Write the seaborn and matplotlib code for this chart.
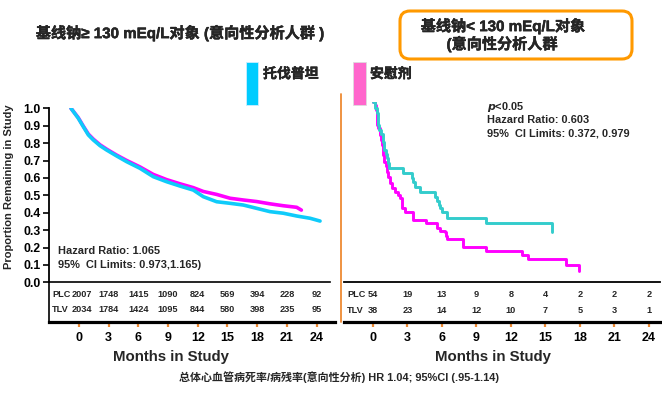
import matplotlib
matplotlib.use("Agg")
import matplotlib.pyplot as plt
from matplotlib.patches import Rectangle, FancyBboxPatch
from matplotlib.lines import Line2D
import matplotlib.patheffects as pe
import seaborn as sns
import pandas as pd

# ---------------- data ----------------
months_ticks = [0, 3, 6, 9, 12, 15, 18, 21, 24]

# Left panel (baseline Na >= 130)
left_tlv_t = [0, 0.70, 1.19, 1.67, 2.15, 2.80, 3.44, 4.40, 5.37, 6.65, 7.93, 9.22, 10.51,
              11.79, 12.75, 14.04, 15.33, 16.61, 17.90, 19.18, 20.46, 21.75, 23.04, 24.0]
left_tlv_s = [1.0, 0.943, 0.894, 0.847, 0.818, 0.785, 0.760, 0.726, 0.693, 0.655, 0.607, 0.578, 0.553,
              0.530, 0.492, 0.463, 0.454, 0.444, 0.425, 0.406, 0.397, 0.381, 0.368, 0.352]
left_plc_t = [0, 0.70, 1.19, 1.67, 2.15, 2.80, 3.44, 4.40, 5.37, 6.65, 7.93, 9.22, 10.51,
              11.79, 12.75, 14.04, 15.33, 16.61, 17.90, 19.18, 20.46, 21.75, 22.2]
left_plc_s = [1.0, 0.946, 0.897, 0.852, 0.823, 0.790, 0.765, 0.731, 0.700, 0.663, 0.620, 0.590, 0.566,
              0.544, 0.522, 0.505, 0.483, 0.473, 0.464, 0.451, 0.440, 0.431, 0.415]

# Right panel (baseline Na < 130), step curves
right_tlv_t = [0, 0.17, 0.32, 0.40, 0.46, 0.55, 0.67, 0.90, 0.99, 1.13, 1.25, 1.33, 1.42, 2.58,
               3.36, 3.50, 3.65, 4.09, 5.39, 5.60, 5.74, 5.83, 5.97, 6.46, 9.80, 15.6, 15.6]
right_tlv_s = [1.0, 0.967, 0.94, 0.912, 0.874, 0.846, 0.822, 0.781, 0.735, 0.711, 0.688, 0.66, 0.632,
               0.604, 0.577, 0.554, 0.53, 0.498, 0.474, 0.45, 0.427, 0.409, 0.39, 0.356, 0.328, 0.328, 0.275]
right_plc_t = [0, 0.17, 0.26, 0.32, 0.38, 0.46, 0.61, 0.70, 0.75, 0.84, 0.90, 0.96, 1.13, 1.25, 1.33,
               1.48, 1.62, 1.91, 2.20, 2.35, 2.49, 2.78, 3.50, 4.61, 5.60, 5.83, 6.26, 6.35, 6.46,
               7.80, 9.80, 13.0, 13.45, 16.8, 17.9, 17.9]
right_plc_s = [1.0, 0.986, 0.958, 0.912, 0.874, 0.856, 0.818, 0.791, 0.763, 0.735, 0.707, 0.669, 0.647,
               0.613, 0.585, 0.549, 0.524, 0.502, 0.483, 0.465, 0.409, 0.387, 0.344, 0.325, 0.301,
               0.282, 0.275, 0.256, 0.237, 0.194, 0.172, 0.148, 0.124, 0.092, 0.092, 0.06]

# numbers at risk
left_plc_risk = [2007, 1748, 1415, 1090, 824, 569, 394, 228, 92]
left_tlv_risk = [2034, 1784, 1424, 1095, 844, 580, 398, 235, 95]
right_plc_risk = [54, 19, 13, 9, 8, 4, 2, 2, 2]
right_tlv_risk = [38, 23, 14, 12, 10, 7, 5, 3, 1]

yticks = [0.0, 0.1, 0.2, 0.3, 0.4, 0.5, 0.6, 0.7, 0.8, 0.9, 1.0]

title_left = "基线钠≥ 130 mEq/L对象 (意向性分析人群 )"
title_right_1 = "基线钠< 130 mEq/L对象"
title_right_2 = "(意向性分析人群"
legend_tlv = "托伐普坦"
legend_plc = "安慰剂"
footnote = "总体心血管病死率/病残率(意向性分析) HR 1.04; 95%CI (.95-1.14)"

# ---------------- style ----------------
sns.set_style("white")
plt.rcParams['font.family'] = ['Liberation Sans', 'Noto Sans CJK SC', 'DejaVu Sans']
plt.rcParams['font.weight'] = 'bold'

C_CYAN = '#0FCBFA'
C_TEAL = '#33CCCC'
C_MAG = '#FF00FF'
C_ORANGE = '#EE8A33'
BOLDER = [pe.withStroke(linewidth=0.3, foreground='black')]

W, H = 662, 394
fig = plt.figure(figsize=(W / 100, H / 100), dpi=100)


def add_ax(l, r, top, bottom):
    return fig.add_axes([l / W, 1 - bottom / H, (r - l) / W, (bottom - top) / H])


def fx(px):
    return px / W


def fy(py):
    return 1 - py / H


# ---------------- left curve axes ----------------
ax1 = add_ax(49, 330, 108.3, 282.3)
dl_p = pd.DataFrame({'t': left_plc_t, 's': left_plc_s})
dl_t = pd.DataFrame({'t': left_tlv_t, 's': left_tlv_s})
sns.lineplot(data=dl_p, x='t', y='s', ax=ax1, color=C_MAG, lw=2.6, sort=False, estimator=None)
sns.lineplot(data=dl_t, x='t', y='s', ax=ax1, color=C_CYAN, lw=2.6, sort=False, estimator=None)
ax1.set_xlim(-2.12, 24.96)
ax1.set_ylim(0, 1.0)
ax1.set_xlabel('')
ax1.set_ylabel('')
ax1.set_xticks([])
ax1.set_yticks(yticks)
ax1.set_yticklabels([f"{v:.1f}" for v in yticks], fontsize=8.8, fontweight='bold')
ax1.tick_params(axis='y', direction='out', length=4, width=1.2, pad=2, left=True, colors='black')
for s in ['top', 'right']:
    ax1.spines[s].set_visible(False)
ax1.spines['left'].set_linewidth(1.3)
ax1.spines['bottom'].set_linewidth(1.2)
ax1.spines['left'].set_color('black')
ax1.spines['bottom'].set_color('black')
ax1.patch.set_alpha(0)

# ---------------- left risk table ----------------
ax1t = add_ax(49, 335, 282.3, 322)
ax1t.set_xlim(-3.03, 25.86)
ax1t.set_ylim(0, 1)
ax1t.set_yticks([])
ax1t.set_xticks(months_ticks)
ax1t.set_xticklabels([str(m) for m in months_ticks], fontsize=9, fontweight='bold')
ax1t.tick_params(axis='x', direction='out', length=3.5, width=1.6, color=C_ORANGE, pad=4,
                 bottom=True, labelcolor='black')
for s in ['top', 'right']:
    ax1t.spines[s].set_visible(False)
ax1t.spines['left'].set_linewidth(1.2)
ax1t.spines['bottom'].set_linewidth(2.3)
ax1t.spines['left'].set_color('black')
ax1t.spines['bottom'].set_color('black')
ax1t.patch.set_alpha(0)
tr = ax1t.get_xaxis_transform()
for i, m in enumerate(months_ticks):
    xm = m + (0.3 if i == 0 else 0)
    ax1t.text(xm, 0.705, str(left_plc_risk[i]), transform=tr, ha='center', va='center',
              fontsize=6.6, fontweight='bold')
    ax1t.text(xm, 0.327, str(left_tlv_risk[i]), transform=tr, ha='center', va='center',
              fontsize=6.6, fontweight='bold')
ax1t.text(0.011, 0.705, 'PLC', transform=ax1t.transAxes, ha='left', va='center', fontsize=6.6,
          fontweight='bold')
ax1t.text(0.011, 0.327, 'TLV', transform=ax1t.transAxes, ha='left', va='center', fontsize=6.6,
          fontweight='bold')

# ---------------- right curve axes ----------------
ax2 = add_ax(344, 660, 102.3, 281.5)
dr_p = pd.DataFrame({'t': right_plc_t, 's': right_plc_s})
dr_t = pd.DataFrame({'t': right_tlv_t, 's': right_tlv_s})
sns.lineplot(data=dr_p, x='t', y='s', ax=ax2, color=C_MAG, lw=2.1, sort=False, estimator=None,
             drawstyle='steps-post')
sns.lineplot(data=dr_t, x='t', y='s', ax=ax2, color=C_TEAL, lw=2.1, sort=False, estimator=None,
             drawstyle='steps-post')
ax2.set_xlim(-2.52, 24.96)
ax2.set_ylim(0, 1.0)
ax2.set_xlabel('')
ax2.set_ylabel('')
ax2.set_xticks([])
ax2.set_yticks([])
for s in ['top', 'right', 'left']:
    ax2.spines[s].set_visible(False)
ax2.spines['bottom'].set_linewidth(1.3)
ax2.spines['bottom'].set_color('black')
ax2.patch.set_alpha(0)

# ---------------- right risk table ----------------
ax2t = add_ax(344, 660, 281.5, 322)
ax2t.set_xlim(-2.52, 24.96)
ax2t.set_ylim(0, 1)
ax2t.set_yticks([])
ax2t.set_xticks(months_ticks)
ax2t.set_xticklabels([str(m) for m in months_ticks], fontsize=9, fontweight='bold')
ax2t.tick_params(axis='x', direction='out', length=3.5, width=1.6, color=C_ORANGE, pad=4,
                 bottom=True, labelcolor='black')
for s in ['top', 'right', 'left']:
    ax2t.spines[s].set_visible(False)
ax2t.spines['bottom'].set_linewidth(2.3)
ax2t.spines['bottom'].set_color('black')
ax2t.patch.set_alpha(0)
tr2 = ax2t.get_xaxis_transform()
for i, m in enumerate(months_ticks):
    ax2t.text(m, 0.667, str(right_plc_risk[i]), transform=tr2, ha='center', va='center',
              fontsize=6.6, fontweight='bold')
    ax2t.text(m, 0.296, str(right_tlv_risk[i]), transform=tr2, ha='center', va='center',
              fontsize=6.6, fontweight='bold')
ax2t.text(0.0095, 0.667, 'PLC', transform=ax2t.transAxes, ha='left', va='center', fontsize=6.6,
          fontweight='bold')
ax2t.text(0.0095, 0.296, 'TLV', transform=ax2t.transAxes, ha='left', va='center', fontsize=6.6,
          fontweight='bold')

# ---------------- separators & annotations ----------------
fig.add_artist(Line2D([fx(341), fx(341)], [fy(94), fy(322)], color=C_ORANGE, lw=1.3,
                      transform=fig.transFigure))

fig.text(fx(9), fy(187), 'Proportion Remaining in Study', rotation=90, ha='center', va='center',
         fontsize=8, fontweight='bold')

fig.text(fx(171), fy(357), 'Months in Study', ha='center', va='center', fontsize=10.8,
         fontweight='bold')
fig.text(fx(493), fy(357), 'Months in Study', ha='center', va='center', fontsize=10.8,
         fontweight='bold')

fig.text(fx(58), fy(251), 'Hazard Ratio: 1.065', ha='left', va='center', fontsize=7.9,
         fontweight='bold')
fig.text(fx(58), fy(265), '95%  CI Limits: 0.973,1.165)', ha='left', va='center', fontsize=7.9,
         fontweight='bold')

fig.text(fx(487), fy(107), r'$\mathit{p}$<0.05', ha='left', va='center', fontsize=7.9,
         fontweight='bold')
fig.text(fx(487), fy(120), 'Hazard Ratio: 0.603', ha='left', va='center', fontsize=7.9,
         fontweight='bold')
fig.text(fx(487), fy(133), '95%  CI Limits: 0.372, 0.979', ha='left', va='center', fontsize=7.9,
         fontweight='bold')

# titles
fig.text(fx(180), fy(33), title_left, ha='center', va='center', fontsize=10.9, fontweight='bold',
         path_effects=BOLDER)
fig.add_artist(FancyBboxPatch((4.00, 3.35), 2.32, 0.48,
                              boxstyle="round,pad=0,rounding_size=0.1",
                              transform=fig.dpi_scale_trans, fill=False, ec='#FF9900', lw=2.2))
fig.text(fx(503), fy(26), title_right_1, ha='center', va='center', fontsize=10.9, fontweight='bold',
         path_effects=BOLDER)
fig.text(fx(502), fy(44), title_right_2, ha='center', va='center', fontsize=10.9, fontweight='bold',
         path_effects=BOLDER)

# legend swatches
fig.add_artist(Rectangle((fx(246), fy(105)), 12 / W, 43 / H, transform=fig.transFigure,
                         facecolor='#00CCFF', edgecolor='#CCEEFF', lw=0.6))
fig.text(fx(263), fy(74), legend_tlv, ha='left', va='center', fontsize=10, fontweight='bold',
         path_effects=BOLDER)
fig.add_artist(Rectangle((fx(353), fy(105)), 13 / W, 43 / H, transform=fig.transFigure,
                         facecolor='#FF66CC', edgecolor='#DDDDDD', lw=0.6))
fig.text(fx(370), fy(74), legend_plc, ha='left', va='center', fontsize=10, fontweight='bold',
         path_effects=BOLDER)

fig.text(fx(339), fy(377), footnote, ha='center', va='center', fontsize=7.9, fontweight='bold')

fig.savefig('out.png', dpi=100)
